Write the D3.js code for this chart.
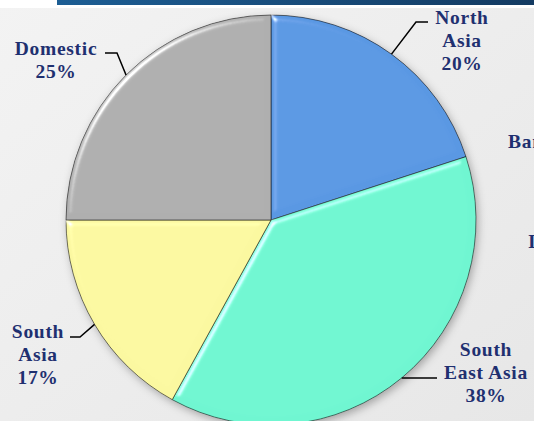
<!DOCTYPE html>
<meta charset="utf-8">
<script src="https://cdn.jsdelivr.net/npm/d3@7"></script>
<style>
body { margin: 0; }
text {
  fill: #1f3070;
  font-family: "Liberation Serif", serif;
  font-weight: bold;
  font-size: 19.5px;
  letter-spacing: 0.7px;
}
</style>
<body>
<script>

// chart data
var regions = ["North Asia", "South East Asia", "South Asia", "Domestic"];
var shares = [20, 38, 17, 25];
var colours = ["#5a98e3", "#6ff6d1", "#fbf8a0", "#afafaf"];
// label lines as shown on the chart
var labelLines = [["North", "Asia", "20%"], ["South", "East Asia", "38%"], ["South", "Asia", "17%"], ["Domestic", "25%"]];

var width = 534,
    height = 421,
    cx = 271, cy = 220, r = 205;

// where each label block sits and where its leader ends
var labelAt = [
  {x: 462, y: 24, lx: 428, ly: 22, hx: 416},
  {x: 486, y: 356, lx: 437, ly: 378, hx: 437},
  {x: 38, y: 338, lx: 70, ly: 337, hx: 80},
  {x: 56, y: 55, lx: 105, ly: 53, hx: 117}
];

var svg = d3.select("body").append("svg")
    .attr("width", width)
    .attr("height", height);

var defs = svg.append("defs");

var bg = defs.append("linearGradient").attr("id", "bg")
    .attr("x1", 0).attr("y1", 0).attr("x2", 1).attr("y2", 1);
bg.append("stop").attr("offset", 0).attr("stop-color", "#f3f3f3");
bg.append("stop").attr("offset", 1).attr("stop-color", "#e7e7e7");

var bar = defs.append("linearGradient").attr("id", "bar");
bar.append("stop").attr("offset", 0).attr("stop-color", "#1d5e94");
bar.append("stop").attr("offset", 1).attr("stop-color", "#143b62");

var f = defs.append("filter").attr("id", "bevel")
    .attr("x", "-10%").attr("y", "-10%").attr("width", "120%").attr("height", "120%");
f.append("feGaussianBlur").attr("in", "SourceAlpha").attr("stdDeviation", 3).attr("result", "blur");
f.append("feSpecularLighting").attr("in", "blur").attr("surfaceScale", 3)
    .attr("specularConstant", 0.7).attr("specularExponent", 60)
    .attr("lighting-color", "#ffffff").attr("result", "spec")
  .append("feDistantLight").attr("azimuth", 225).attr("elevation", 45);
f.append("feComposite").attr("in", "spec").attr("in2", "SourceAlpha")
    .attr("operator", "in").attr("result", "specIn");
f.append("feComposite").attr("in", "SourceGraphic").attr("in2", "specIn")
    .attr("operator", "arithmetic").attr("k1", 0).attr("k2", 1).attr("k3", 1).attr("k4", 0);

var sh = defs.append("filter").attr("id", "shadow")
    .attr("x", "-10%").attr("y", "-10%").attr("width", "120%").attr("height", "120%");
sh.append("feDropShadow").attr("dx", 2).attr("dy", 3).attr("stdDeviation", 4)
    .attr("flood-color", "#000").attr("flood-opacity", 0.3);

// background
svg.append("rect").attr("width", width).attr("height", height).attr("fill", "url(#bg)");
svg.append("rect").attr("width", width).attr("height", 8).attr("fill", "#ffffff");
svg.append("rect").attr("x", 57).attr("width", width - 57).attr("height", 5).attr("fill", "url(#bar)");

var pie = d3.pie().sort(null).value(function(d) { return d; });
var arcs = pie(shares);
var arc = d3.arc().innerRadius(0).outerRadius(r);

var g = svg.append("g").attr("transform", "translate(" + cx + "," + cy + ")");

g.append("circle").attr("r", r).attr("fill", "#999").attr("filter", "url(#shadow)");

g.selectAll("path.slice")
  .data(arcs)
  .enter().append("path")
    .attr("class", "slice")
    .attr("d", arc)
    .attr("fill", function(d, i) { return colours[i]; })
    .attr("stroke", "rgba(0,0,0,0.5)")
    .attr("stroke-width", 1)
    .attr("filter", "url(#bevel)");

// leader lines from the middle of each slice's rim
arcs.forEach(function(d, i) {
  var a = (d.startAngle + d.endAngle) / 2;
  var ex = cx + r * Math.sin(a),
      ey = cy - r * Math.cos(a);
  var p = labelAt[i];
  svg.append("path")
    .attr("d", "M" + ex + "," + ey + "L" + p.hx + "," + p.ly + "L" + p.lx + "," + p.ly)
    .attr("fill", "none")
    .attr("stroke", "#000")
    .attr("stroke-width", 1.5);
});

// labels
labelLines.forEach(function(lines, i) {
  var t = svg.append("text")
    .attr("x", labelAt[i].x)
    .attr("y", labelAt[i].y)
    .attr("text-anchor", "middle");
  lines.forEach(function(s, k) {
    t.append("tspan").attr("x", labelAt[i].x).attr("dy", k == 0 ? 0 : 23).text(s);
  });
});

// pieces of the neighbouring chart cut off at the right edge
svg.append("text").attr("x", 508).attr("y", 148).text("Ban");
svg.append("text").attr("x", 528).attr("y", 248).text("I");

</script>
</body>
